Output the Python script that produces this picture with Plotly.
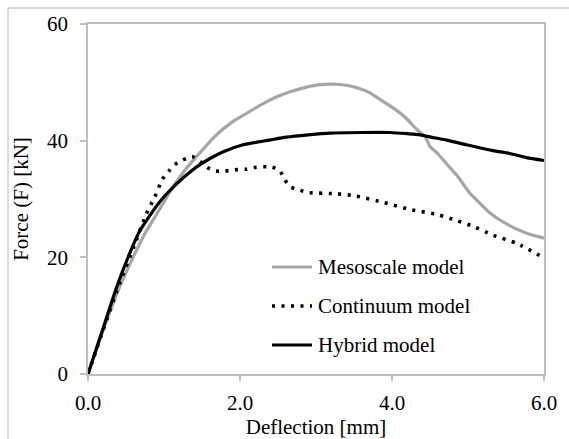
import plotly.graph_objects as go

# Force-deflection response of the three modelling approaches
meso_defl = [0.0, 0.2, 0.4, 0.6, 0.75, 0.88, 1.12, 1.28, 1.43, 1.69, 1.91, 2.09, 2.31,
             2.5, 2.66, 2.85, 3.05, 3.23, 3.4, 3.53, 3.71, 3.84, 3.97, 4.11, 4.19, 4.32,
             4.44, 4.5, 4.6, 4.72, 4.85, 5.03, 5.07, 5.29, 5.42, 5.6, 5.8, 6.0]
meso_force = [0.0, 7.5, 14.4, 20.2, 24.1, 26.9, 32.1, 35.0, 37.3, 41.0, 43.3, 44.7, 46.4,
              47.6, 48.4, 49.1, 49.6, 49.7, 49.5, 49.1, 48.2, 47.1, 46.0, 44.7, 43.8, 42.0,
              40.6, 39.0, 37.8, 36.0, 34.1, 30.9, 30.4, 27.6, 26.4, 25.1, 24.0, 23.3]

cont_defl = [0.0, 0.2, 0.4, 0.6, 0.77, 0.88, 0.98, 1.06, 1.14, 1.25, 1.37, 1.48, 1.57, 1.68,
             1.8, 1.93, 2.07, 2.18, 2.42, 2.53, 2.59, 2.66, 2.79, 2.9, 3.27, 3.53, 3.89,
             4.24, 4.61, 4.85, 5.07, 5.33, 5.64, 6.0]
cont_force = [0.0, 7.6, 15.0, 21.7, 27.5, 30.4, 33.4, 34.7, 35.9, 36.7, 37.3, 36.4, 35.4, 34.8,
              34.8, 35.0, 35.1, 35.4, 35.5, 34.7, 33.3, 32.1, 31.5, 31.1, 30.9, 30.5, 29.4,
              28.2, 27.3, 26.3, 25.3, 23.8, 22.4, 19.9]

hyb_defl = [0.0, 0.2, 0.38, 0.53, 0.68, 0.79, 0.95, 1.08, 1.25, 1.43, 1.6, 1.78, 2.04, 2.39,
            2.61, 2.9, 3.18, 3.62, 3.97, 4.2, 4.37, 4.55, 4.72, 4.98, 5.33, 5.55, 5.77, 6.0]
hyb_force = [0.0, 7.9, 15.0, 20.1, 24.5, 26.7, 29.6, 31.5, 33.6, 35.5, 36.9, 38.1, 39.3, 40.1,
             40.6, 41.0, 41.3, 41.4, 41.4, 41.2, 41.0, 40.5, 40.1, 39.3, 38.3, 37.8, 37.1, 36.6]

series_names = ["Mesoscale model", "Continuum model", "Hybrid model"]
x_ticks = [0, 2, 4, 6]
y_ticks = [0, 20, 40, 60]

FONT = "Liberation Serif"
GRID = "#bfbfbf"
W, H = 569, 439
ML, MR, MT, MB = 88, 25, 24, 65
TXT = dict(family=FONT, size=21, color="#000")

line_styles = [
    dict(color="#a6a6a6", width=3.2),
    dict(color="#000000", width=3.6, dash="3px,6.5px"),
    dict(color="#000000", width=3.2),
]

fig = go.Figure()
for name, xs, ys, st in zip(series_names,
                            [meso_defl, cont_defl, hyb_defl],
                            [meso_force, cont_force, hyb_force],
                            line_styles):
    fig.add_trace(go.Scatter(x=xs, y=ys, mode="lines", name=name,
                             line=dict(st, shape="spline", smoothing=0.6),
                             showlegend=False))


def px_x(px):
    return (px - ML) / (W - ML - MR)


def px_y(py):
    return (H - MB - py) / (H - MT - MB)


# Hand-placed legend (line sample + label per series)
legend_rows = [267, 306, 345]
shapes = []
annotations = []
for name, st, row in zip(series_names, line_styles, legend_rows):
    shapes.append(dict(type="line", xref="paper", yref="paper",
                       x0=px_x(272), x1=px_x(312), y0=px_y(row), y1=px_y(row),
                       line=dict(color=st["color"], width=st["width"],
                                 dash=st.get("dash", "solid"))))
    annotations.append(dict(text=name, xref="paper", yref="paper",
                            x=px_x(316), y=px_y(row), xanchor="left", yanchor="middle",
                            showarrow=False, font=TXT))

# Outer chart frame
shapes.append(dict(type="rect", xref="paper", yref="paper",
                   x0=px_x(8), y0=px_y(700), x1=px_x(700), y1=px_y(8),
                   line=dict(color="#c8c8c8", width=1.3), layer="below"))

fig.update_layout(
    width=W, height=H,
    margin=dict(l=ML, r=MR, t=MT, b=MB),
    paper_bgcolor="white", plot_bgcolor="white",
    font=TXT,
    shapes=shapes, annotations=annotations,
    xaxis=dict(range=[0, 6], tickvals=x_ticks, tickformat=".1f", showgrid=False,
               zeroline=False, showline=True, linecolor=GRID, linewidth=1.5, mirror=True,
               ticks="outside", ticklen=5, tickcolor=GRID, tickwidth=1.5,
               ticklabelstandoff=4, automargin=False,
               title=dict(text="Deflection [mm]", standoff=9, font=TXT),
               tickfont=TXT),
    yaxis=dict(range=[0, 60], tickvals=y_ticks, showgrid=False, zeroline=False,
               showline=True, linecolor=GRID, linewidth=1.5, mirror=True,
               ticks="outside", ticklen=6, tickcolor=GRID, tickwidth=1.5,
               ticklabelstandoff=8, automargin=False,
               title=dict(text="Force (F) [kN]", standoff=13, font=TXT),
               tickfont=TXT),
)

fig.write_html("out.html")
